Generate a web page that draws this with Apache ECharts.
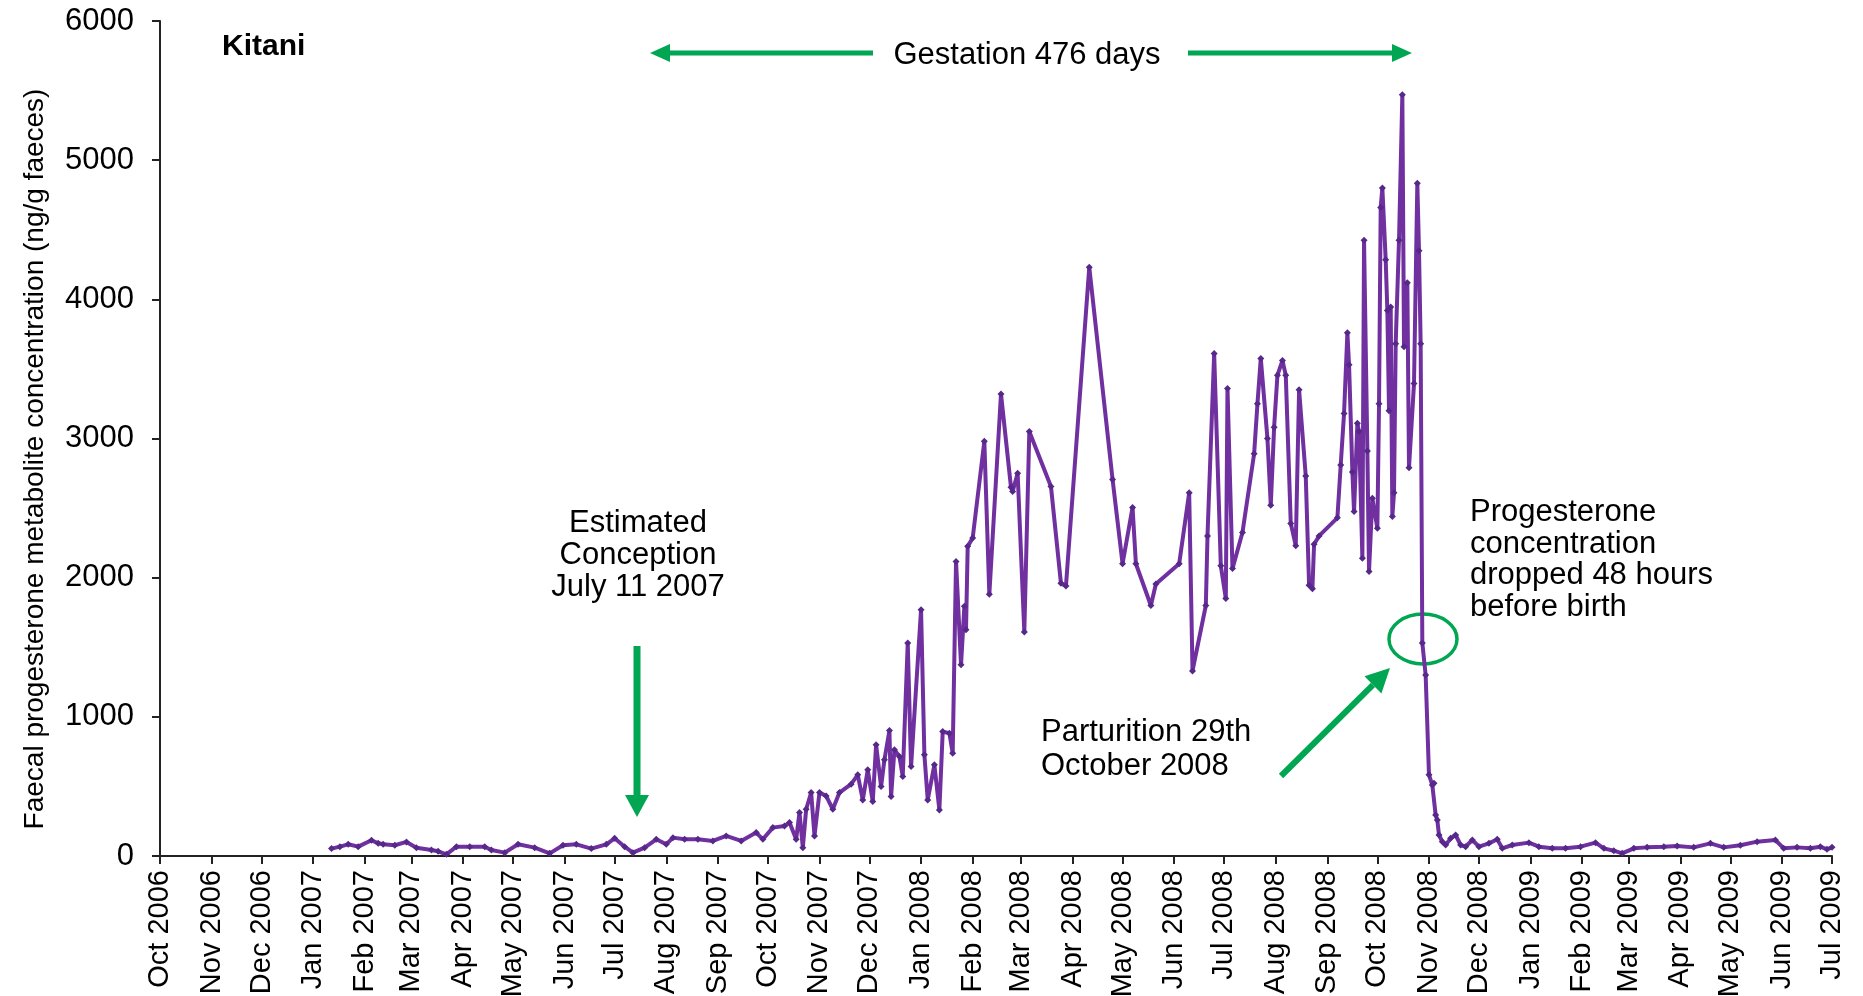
<!DOCTYPE html>
<html><head><meta charset="utf-8">
<script src="https://cdn.jsdelivr.net/npm/echarts@6/dist/echarts.min.js"></script>
<style>html,body{margin:0;padding:0;background:#fff}#c{width:1863px;height:996px}</style>
</head><body><div id="c"></div>
<script>
const tickLabels = ['Oct 2006','Nov 2006','Dec 2006','Jan 2007','Feb 2007','Mar 2007','Apr 2007','May 2007','Jun 2007','Jul 2007','Aug 2007','Sep 2007','Oct 2007','Nov 2007','Dec 2007','Jan 2008','Feb 2008','Mar 2008','Apr 2008','May 2008','Jun 2008','Jul 2008','Aug 2008','Sep 2008','Oct 2008','Nov 2008','Dec 2008','Jan 2009','Feb 2009','Mar 2009','Apr 2009','May 2009','Jun 2009','Jul 2009'];
const yTicks = [0,1000,2000,3000,4000,5000,6000];
const sampleDates = [
'2007-01-12','2007-01-17','2007-01-22','2007-01-28','2007-02-05','2007-02-09','2007-02-12','2007-02-19','2007-02-26','2007-03-04',
'2007-03-13','2007-03-17','2007-03-22','2007-03-28','2007-04-05','2007-04-14','2007-04-18','2007-04-26','2007-05-04','2007-05-14',
'2007-05-23','2007-05-31','2007-06-08','2007-06-17','2007-06-26','2007-07-01','2007-07-07','2007-07-12','2007-07-19','2007-07-26',
'2007-08-01','2007-08-05','2007-08-12','2007-08-20','2007-08-29','2007-09-06','2007-09-15','2007-09-24','2007-09-28','2007-10-04',
'2007-10-11','2007-10-14','2007-10-18','2007-10-20','2007-10-22','2007-10-24','2007-10-27','2007-10-29','2007-11-01','2007-11-05',
'2007-11-09','2007-11-13','2007-11-20','2007-11-24','2007-11-27','2007-11-30','2007-12-03','2007-12-05','2007-12-08','2007-12-10',
'2007-12-13','2007-12-14','2007-12-16','2007-12-19','2007-12-21','2007-12-24','2007-12-26','2008-01-01','2008-01-03','2008-01-05',
'2008-01-09','2008-01-12','2008-01-14','2008-01-18','2008-01-20','2008-01-22','2008-01-25','2008-01-27','2008-01-28','2008-01-29',
'2008-02-01','2008-02-08','2008-02-11','2008-02-18','2008-02-24','2008-02-25','2008-02-28','2008-03-03','2008-03-06','2008-03-19',
'2008-03-25','2008-03-28','2008-04-11','2008-04-25','2008-05-01','2008-05-07','2008-05-09','2008-05-18','2008-05-21','2008-06-04',
'2008-06-10','2008-06-12','2008-06-20','2008-06-21','2008-06-25','2008-06-29','2008-07-02','2008-07-03','2008-07-06','2008-07-12',
'2008-07-19','2008-07-21','2008-07-23','2008-07-27','2008-07-29','2008-07-31','2008-08-02','2008-08-05','2008-08-07','2008-08-10',
'2008-08-13','2008-08-15','2008-08-19','2008-08-21','2008-08-23','2008-08-24','2008-08-27','2008-09-07','2008-09-09','2008-09-11',
'2008-09-13','2008-09-14','2008-09-16','2008-09-17','2008-09-19','2008-09-20','2008-09-22','2008-09-23','2008-09-25','2008-09-26',
'2008-09-28','2008-10-01','2008-10-02','2008-10-03','2008-10-04','2008-10-06','2008-10-07','2008-10-08','2008-10-09','2008-10-10',
'2008-10-11','2008-10-12','2008-10-14','2008-10-16','2008-10-17','2008-10-19','2008-10-20','2008-10-23','2008-10-25','2008-10-26',
'2008-10-27','2008-10-28','2008-10-30','2008-11-01','2008-11-03','2008-11-04','2008-11-05','2008-11-06','2008-11-07','2008-11-09',
'2008-11-11','2008-11-14','2008-11-17','2008-11-20','2008-11-23','2008-11-27','2008-12-01','2008-12-07','2008-12-12','2008-12-15',
'2008-12-21','2008-12-31','2009-01-06','2009-01-14','2009-01-22','2009-01-31','2009-02-09','2009-02-14','2009-02-20','2009-02-25',
'2009-03-04','2009-03-12','2009-03-22','2009-03-30','2009-04-09','2009-04-19','2009-04-27','2009-05-07','2009-05-17','2009-05-28',
'2009-06-02','2009-06-10','2009-06-18','2009-06-24','2009-06-28','2009-07-01'
];
const progesterone = [
53,67,84,67,113,91,84,77,101,60,
43,34,12,67,67,67,43,24,84,60,
19,77,84,53,84,127,67,24,60,120,
84,132,120,120,108,144,108,168,120,204,
216,240,120,312,60,336,456,144,456,432,
336,456,516,583,403,619,391,799,499,691,
902,427,763,715,571,1530,643,1770,727,403,
655,331,894,882,739,2117,1374,1794,1626,2225,
2285,2980,1880,3320,2650,2620,2750,1610,3050,2655,
1960,1940,4230,2705,2100,2505,2100,1800,1955,2100,
2610,1330,1800,2300,3610,2085,1850,3360,2065,2325,
2890,3250,3575,3000,2520,3080,3455,3560,3455,2390,
2230,3350,2730,1945,1920,2240,2300,2430,2810,3180,
3760,3530,2760,2475,3110,3050,2140,4425,2910,2045,
2570,2355,3250,4660,4800,4285,3920,3200,3945,2440,
2610,3680,4425,5470,3660,4120,2790,3395,4835,4350,
3680,1530,1300,583,510,523,295,259,151,103,
79,127,151,79,67,115,67,91,120,55,
79,96,67,55,55,67,96,55,38,19,
55,62,67,72,62,91,62,77,103,115,
55,62,55,67,48,62
];

const MONTHS = {Jan:0,Feb:1,Mar:2,Apr:3,May:4,Jun:5,Jul:6,Aug:7,Sep:8,Oct:9,Nov:10,Dec:11};
function dateTs(s){const p=s.split('-').map(Number);return Date.UTC(p[0],p[1]-1,p[2]);}
function labelTs(l){const p=l.split(' ');return Date.UTC(+p[1],MONTHS[p[0]],1);}
const tickTs = tickLabels.map(labelTs);
const labelByTs = {}; tickTs.forEach((t,i)=>{labelByTs[t]=tickLabels[i];});
const seriesData = sampleDates.map((d,i)=>[dateTs(d), progesterone[i]]);

const FONT = "'Liberation Sans', Arial, sans-serif";
const GREEN = '#00a651';
const chart = echarts.init(document.getElementById('c'), null, {renderer:'canvas'});

function arrowHead(tip, from, len, half){
  const dx=tip[0]-from[0], dy=tip[1]-from[1], L=Math.hypot(dx,dy);
  const ux=dx/L, uy=dy/L, bx=tip[0]-ux*len, by=tip[1]-uy*len;
  return {points:[[tip[0],tip[1]],[bx-uy*half,by+ux*half],[bx+uy*half,by-ux*half]], base:[bx,by]};
}
function arrow(from, tip, width, len, half){
  const h = arrowHead(tip, from, len, half);
  return [
    {type:'line', shape:{x1:from[0],y1:from[1],x2:h.base[0],y2:h.base[1]}, style:{stroke:GREEN,lineWidth:width}, silent:true},
    {type:'polygon', shape:{points:h.points}, style:{fill:GREEN}, silent:true}
  ];
}
function txt(x,y,text,opts){
  return Object.assign({type:'text', x:x, y:y, silent:true,
    style:Object.assign({text:text, font:'31px '+FONT, fill:'#000', textVerticalAlign:'middle'}, opts||{})});
}

const option = {
  animation:false,
  backgroundColor:'#fff',
  grid:{left:160, right:31, top:21, bottom:140, containLabel:false, outerBoundsMode:'none'},
  xAxis:{
    type:'value', min:tickTs[0], max:tickTs[tickTs.length-1], scale:true,
    axisLine:{show:true, onZero:false, lineStyle:{color:'#222', width:2}},
    axisTick:{show:true, customValues:tickTs, length:8, lineStyle:{color:'#222', width:2}},
    axisLabel:{customValues:tickTs, rotate:90, margin:14, fontSize:29, fontFamily:FONT, color:'#000',
      formatter:function(v){return labelByTs[v] || '';}},
    splitLine:{show:false}
  },
  yAxis:{
    type:'value', min:yTicks[0], max:yTicks[yTicks.length-1], interval:1000,
    axisLine:{show:true, lineStyle:{color:'#222', width:2}},
    axisTick:{show:true, length:8, lineStyle:{color:'#222', width:2}},
    axisLabel:{margin:26, fontSize:31, fontFamily:FONT, color:'#000', formatter:function(v){return String(v);}},
    splitLine:{show:false}
  },
  series:[{
    type:'line', data:seriesData, showSymbol:true, showAllSymbol:true,
    symbol:'diamond', symbolSize:7,
    itemStyle:{color:'#55288a'},
    lineStyle:{color:'#7030a0', width:4},
    z:3
  }],
  graphic:[]
};
chart.setOption(option);

const g = [];
g.push({type:'text', x:35, y:459, rotation:Math.PI/2, silent:true,
  style:{text:'Faecal progesterone metabolite concentration (ng/g faeces)', font:'28px '+FONT, fill:'#000', textAlign:'center', textVerticalAlign:'middle'}});
g.push(txt(222, 47, 'Kitani', {font:'bold 30px '+FONT}));
g.push(txt(1027, 55, 'Gestation 476 days', {textAlign:'center'}));
g.push(...arrow([873,53],[650,53],5,20,9));
g.push(...arrow([1188,53],[1412,53],5,20,9));
g.push(txt(638, 555, 'Estimated\nConception\nJuly 11 2007', {textAlign:'center', lineHeight:32}));
g.push(...arrow([637,646],[637,817],7,22,12));
g.push(txt(1041, 749, 'Parturition 29th\nOctober 2008', {textAlign:'left', lineHeight:34}));
g.push(...arrow([1281,776],[1390,668],6,24,12));
g.push({type:'ellipse', shape:{cx:1423, cy:639, rx:34, ry:25}, style:{fill:'none', stroke:GREEN, lineWidth:3.5}, silent:true});
g.push(txt(1470, 560, 'Progesterone\nconcentration\ndropped 48 hours\nbefore birth', {textAlign:'left', lineHeight:31.5}));
chart.setOption({graphic:g});
</script></body></html>
